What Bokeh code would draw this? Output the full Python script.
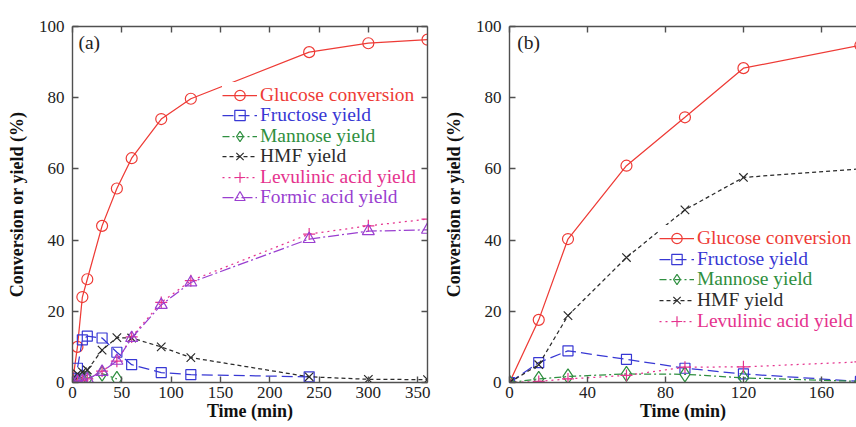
from bokeh.plotting import figure
from bokeh.models import LinearAxis, FixedTicker, Range1d, Legend, LegendItem, Label
from bokeh.layouts import row
from bokeh.embed import file_html
from bokeh.resources import INLINE

# ---------------- data: panel (a) ----------------
time_a = [0, 5, 10, 15, 30, 45, 60, 90, 120, 240, 300, 360]
glucose_a = [0, 10, 24, 29, 44, 54.5, 63, 74, 79.7, 92.8, 95.3, 96.3]
hmf_a = [0, 2.4, 3.0, 3.5, 9.1, 12.6, 12.5, 10, 7, 1.6, 0.9, 0.8]
levulinic_a = [0, 0.3, 0.5, 1.0, 3.2, 6.0, 12.8, 22.5, 28.6, 41.7, 44, 45.9]
formic_a = [0, 0.3, 0.5, 1.0, 3.0, 6.1, 12.5, 21.8, 28.1, 40.3, 42.5, 42.9]
fructose_time_a = [0, 5, 10, 15, 30, 45, 60, 90, 120, 240]
fructose_a = [0, 4, 12, 13, 12.5, 8.5, 5, 2.8, 2.2, 1.6]
mannose_time_a = [0, 5, 10, 15, 30, 45]
mannose_a = [0, 0.5, 0.8, 1.2, 2.5, 1.0]

# ---------------- data: panel (b) ----------------
time_b = [0, 15, 30, 60, 90, 120, 180]
glucose_b = [0, 17.6, 40.3, 60.9, 74.5, 88.3, 94.7]
fructose_b = [0, 5.6, 8.9, 6.5, 4.0, 2.4, 0.3]
mannose_b = [0, 1.0, 1.7, 2.4, 2.3, 1.3, 0.3]
hmf_b = [0, 5.0, 18.8, 35.1, 48.5, 57.6, 60.0]
levulinic_b = [0, 0.3, 1.0, 2.0, 4.3, 4.4, 5.8]

xticks_a = [0, 50, 100, 150, 200, 250, 300, 350]
xticks_b = [0, 40, 80, 120, 160]
yticks = [0, 20, 40, 60, 80, 100]

labels = ["Glucose conversion", "Fructose yield", "Mannose yield", "HMF yield",
          "Levulinic acid yield", "Formic acid yield"]

# ---------------- styles ----------------
SERIF = "Liberation Serif"
AXC = "#505050"
C_GLU, C_FRU, C_MAN, C_HMF, C_LEV, C_FOR = "#ee3b36", "#3838d4", "#2f8f40", "#2b2b2b", "#e5338e", "#9a3fd0"
STY = {
    "Glucose conversion": dict(color=C_GLU, dash="solid", marker="circle", size=11),
    "Fructose yield": dict(color=C_FRU, dash="11 5", marker="square", size=10),
    "Mannose yield": dict(color=C_MAN, dash="7 3 2 3", marker="diamond", size=15),
    "HMF yield": dict(color=C_HMF, dash="4 3", marker="x", size=12),
    "Levulinic acid yield": dict(color=C_LEV, dash="2 4", marker="cross", size=12),
    "Formic acid yield": dict(color=C_FOR, dash="11 3 2 3", marker="triangle", size=12),
}

H = 427
BORDER_TOP, BORDER_BOTTOM = 26, 45
FRAME_H = H - BORDER_TOP - BORDER_BOTTOM


def style_axis(ax, ticks, show_labels, title=None):
    ax.ticker = FixedTicker(ticks=ticks)
    ax.axis_line_color = AXC
    ax.axis_line_width = 1.4
    ax.major_tick_line_color = AXC
    ax.major_tick_line_width = 1.4
    ax.major_tick_in = 6
    ax.major_tick_out = 0
    ax.minor_tick_line_color = None
    if show_labels:
        ax.major_label_text_font = SERIF
        ax.major_label_text_font_size = "17px"
        ax.major_label_text_color = "#222222"
    else:
        ax.major_label_text_color = None
        ax.major_label_text_font_size = "0px"
        ax.major_label_standoff = 0
    if title:
        ax.axis_label = title
        ax.axis_label_text_font = SERIF
        ax.axis_label_text_font_style = "bold"
        ax.axis_label_text_font_size = "18px"
        ax.axis_label_text_color = "#111111"


def make_fig(width, x_end, border_left, border_right, xticks, right_axis, tag):
    p = figure(width=width, height=H, x_range=Range1d(0, x_end), y_range=Range1d(0, 100),
               output_backend="svg", toolbar_location=None,
               x_axis_location=None, y_axis_location=None,
               min_border_left=border_left, min_border_right=border_right,
               min_border_top=BORDER_TOP, min_border_bottom=BORDER_BOTTOM)
    p.xgrid.visible = False
    p.ygrid.visible = False
    p.outline_line_color = None
    p.background_fill_color = "white"
    p.border_fill_color = "white"

    bottom = LinearAxis()
    style_axis(bottom, xticks, True, "Time (min)")
    bottom.major_label_standoff = 4
    bottom.axis_label_standoff = 0
    p.add_layout(bottom, "below")

    left = LinearAxis()
    style_axis(left, yticks, True, "Conversion or yield (%)")
    left.major_label_standoff = 8
    left.axis_label_standoff = 9
    p.add_layout(left, "left")

    top = LinearAxis()
    style_axis(top, xticks, False)
    p.add_layout(top, "above")

    if right_axis:
        r = LinearAxis()
        style_axis(r, yticks, False)
        p.add_layout(r, "right")

    p.add_layout(Label(x=tag[1], y=98.5, text=tag[0], text_baseline="top",
                       text_font=SERIF, text_font_size="19.5px", text_color="#222222"))
    return p


def draw(p, name, t, v):
    s = STY[name]
    lr = p.line(t, v, line_color=s["color"], line_width=1.25, line_dash=s["dash"])
    sr = p.scatter(t, v, marker=s["marker"], size=s["size"], line_color=s["color"],
                   fill_color=None, line_width=1.2)
    return [lr, sr]


def add_legends(p, entries, x0, first_center, step):
    h = 26
    for i in reversed(range(len(entries))):
        name, rends = entries[i]
        center = first_center + i * step
        vy = FRAME_H - center - h / 2
        leg = Legend(items=[LegendItem(label=name, renderers=rends)],
                     location=(x0, vy), margin=0, padding=0, spacing=0,
                     glyph_width=35, glyph_height=h, label_height=20, label_standoff=3,
                     label_text_font=SERIF, label_text_font_size="19.5px",
                     label_text_color=STY[name]["color"],
                     background_fill_color="white", background_fill_alpha=1.0,
                     border_line_color=None)
        p.add_layout(leg)


# ---------------- panel (a) ----------------
pa = make_fig(440, 360, 72, 13, xticks_a, True, ("(a)", 6))
ents_a = [
    (labels[0], draw(pa, labels[0], time_a, glucose_a)),
    (labels[1], draw(pa, labels[1], fructose_time_a, fructose_a)),
    (labels[2], draw(pa, labels[2], mannose_time_a, mannose_a)),
    (labels[3], draw(pa, labels[3], time_a, hmf_a)),
    (labels[4], draw(pa, labels[4], time_a, levulinic_a)),
    (labels[5], draw(pa, labels[5], time_a, formic_a)),
]
add_legends(pa, ents_a, 150, 69, 20.4)

# ---------------- panel (b) ----------------
pb = make_fig(416, 178, 63, 0, xticks_b, False, ("(b)", 4))
ents_b = [
    (labels[0], draw(pb, labels[0], time_b, glucose_b)),
    (labels[1], draw(pb, labels[1], time_b, fructose_b)),
    (labels[2], draw(pb, labels[2], time_b, mannose_b)),
    (labels[3], draw(pb, labels[3], time_b, hmf_b)),
    (labels[4], draw(pb, labels[4], time_b, levulinic_b)),
]
add_legends(pb, ents_b, 150, 212.3, 20.55)

layout = row(pa, pb, spacing=0)
open("out.html", "w").write(file_html(layout, INLINE))
